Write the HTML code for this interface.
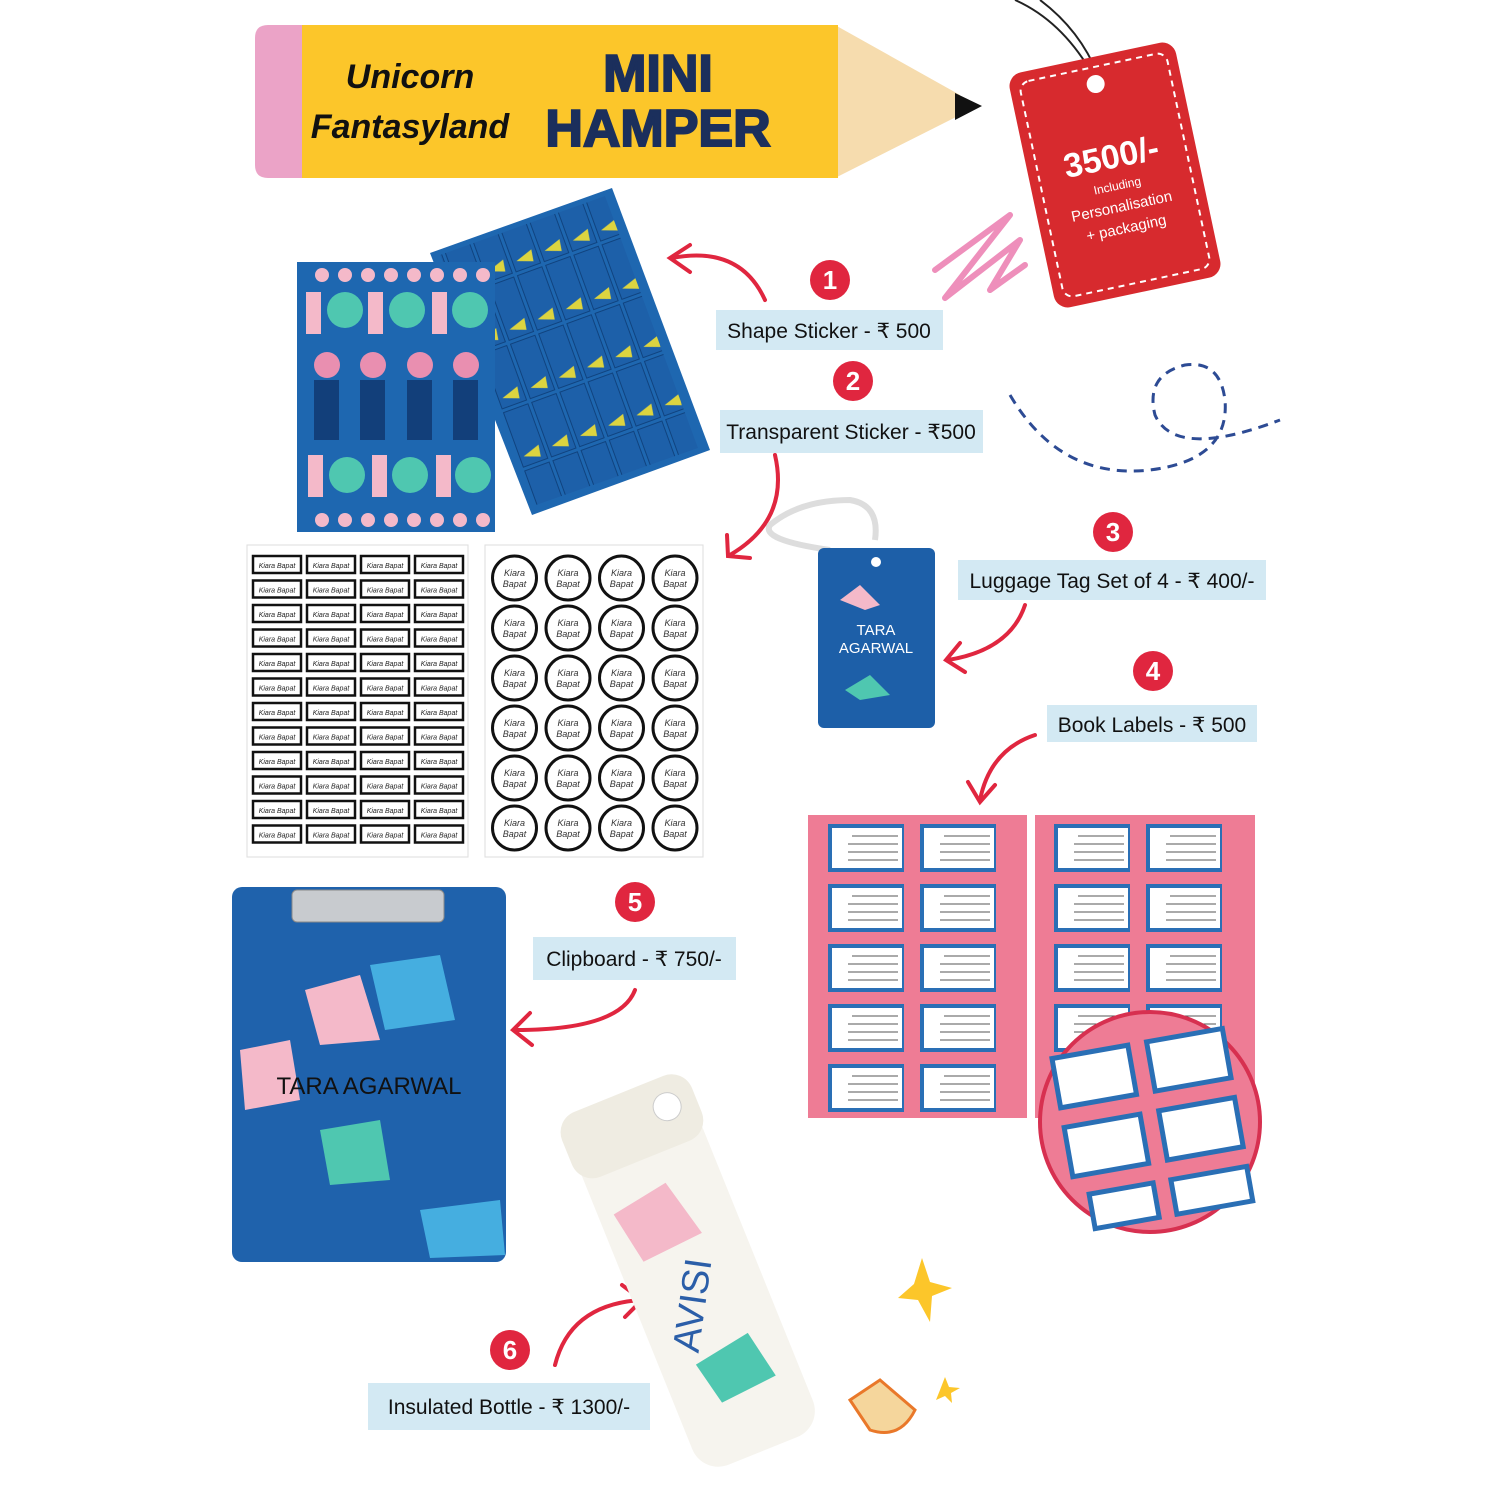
<!DOCTYPE html>
<html><head><meta charset="utf-8"><style>
html,body{margin:0;padding:0;background:#fff;}
svg{display:block}
text{font-family:"Liberation Sans",sans-serif;}
</style></head><body>
<svg width="1500" height="1500" viewBox="0 0 1500 1500" xmlns="http://www.w3.org/2000/svg">
<defs>
<pattern id="wl" x="250" y="553" width="54" height="24.5" patternUnits="userSpaceOnUse">
<rect x="3" y="3" width="48" height="17" fill="#fff" stroke="#111" stroke-width="2.5"/>
<text x="27" y="15" font-size="7" text-anchor="middle" font-style="italic" fill="#222">Kiara Bapat</text>
</pattern>
<pattern id="wc" x="488" y="553" width="53.5" height="50" patternUnits="userSpaceOnUse">
<circle cx="26.5" cy="25" r="22" fill="#fff" stroke="#111" stroke-width="3"/>
<text x="26.5" y="23" font-size="9" text-anchor="middle" font-style="italic" fill="#333">Kiara</text>
<text x="26.5" y="34" font-size="9" text-anchor="middle" font-style="italic" fill="#333">Bapat</text>
</pattern>
<pattern id="bl" x="812" y="820" width="92" height="60" patternUnits="userSpaceOnUse">
<rect x="16" y="4" width="78" height="48" fill="#2a6fb5"/>
<rect x="20" y="8" width="70" height="40" fill="#fff"/>
<line x1="40" y1="16" x2="86" y2="16" stroke="#555"/><line x1="36" y1="24" x2="86" y2="24" stroke="#555"/><line x1="36" y1="32" x2="86" y2="32" stroke="#555"/><line x1="36" y1="40" x2="86" y2="40" stroke="#555"/>
</pattern>
<pattern id="bl2" x="1038" y="820" width="92" height="60" patternUnits="userSpaceOnUse">
<rect x="16" y="4" width="78" height="48" fill="#2a6fb5"/>
<rect x="20" y="8" width="70" height="40" fill="#fff"/>
<line x1="40" y1="16" x2="86" y2="16" stroke="#555"/><line x1="36" y1="24" x2="86" y2="24" stroke="#555"/><line x1="36" y1="32" x2="86" y2="32" stroke="#555"/><line x1="36" y1="40" x2="86" y2="40" stroke="#555"/>
</pattern>
<pattern id="ts" x="0" y="0" width="30" height="62" patternUnits="userSpaceOnUse" patternTransform="rotate(-20)">
<rect x="2" y="2" width="26" height="58" fill="#1d5fa8" stroke="#0e3f7a"/>
<path d="M6 50 L24 44 L22 56 Z" fill="#f1e033"/>
</pattern>
</defs>

<!-- Pencil -->
<path d="M835 25 L960 95 L960 115 L835 178 Z" fill="#f6dcae"/>
<path d="M955 93 L982 106 L955 120 Z" fill="#111"/>
<rect x="300" y="25" width="538" height="153" fill="#fcc62a"/>
<path d="M268 25 H302 V178 H268 Q255 178 255 165 V38 Q255 25 268 25Z" fill="#eba3c7"/>
<text x="410" y="88" font-size="34" font-weight="bold" font-style="italic" text-anchor="middle" fill="#111">Unicorn</text>
<text x="410" y="138" font-size="34" font-weight="bold" font-style="italic" text-anchor="middle" fill="#111">Fantasyland</text>
<text x="658" y="91" font-size="52" font-weight="900" text-anchor="middle" fill="#1b2f5c" stroke="#1b2f5c" stroke-width="2">MINI</text>
<text x="658" y="146" font-size="52" font-weight="900" text-anchor="middle" fill="#1b2f5c" stroke="#1b2f5c" stroke-width="2">HAMPER</text>

<!-- Tag -->
<path d="M1015 0 Q1060 20 1090 70" stroke="#222" stroke-width="2" fill="none"/>
<path d="M1040 0 Q1080 30 1098 75" stroke="#222" stroke-width="2" fill="none"/>
<g transform="rotate(-12 1115 175)">
<rect x="1030" y="55" width="170" height="240" rx="14" fill="#d72a2e"/>
<rect x="1040" y="65" width="150" height="220" rx="10" fill="none" stroke="#fff" stroke-width="2" stroke-dasharray="6 5"/>
<circle cx="1115" cy="82" r="9" fill="#fff"/>
<text x="1115" y="168" font-size="34" font-weight="bold" text-anchor="middle" fill="#fff">3500/-</text>
<text x="1115" y="190" font-size="12" font-family="Liberation Serif" text-anchor="middle" fill="#fff">Including</text>
<text x="1115" y="212" font-size="15" font-family="Liberation Serif" text-anchor="middle" fill="#fff">Personalisation</text>
<text x="1115" y="234" font-size="15" font-family="Liberation Serif" text-anchor="middle" fill="#fff">+ packaging</text>
</g>
<path d="M935 270 L1010 215 L945 298 L1020 240 L990 290 L1025 265" stroke="#ee8fbb" stroke-width="6" fill="none" stroke-linejoin="round" stroke-linecap="round"/>

<!-- dashed loop -->
<path d="M1010 395 Q1060 480 1150 470 Q1230 460 1225 400 Q1220 360 1185 365 Q1145 375 1155 415 Q1175 460 1280 420" stroke="#2d4b94" stroke-width="3" fill="none" stroke-dasharray="10 7"/>

<!-- sticker sheets -->
<polygon points="430,253 612,188 710,450 532,515" fill="#1e67b0"/>
<polygon points="440,255 605,196 698,448 536,505" fill="url(#ts)" opacity="0.9"/>
<rect x="297" y="262" width="198" height="270" fill="#1e67b0"/>
<g fill="#f4b9c9">
<circle cx="322" cy="275" r="7"/><circle cx="345" cy="275" r="7"/><circle cx="368" cy="275" r="7"/><circle cx="391" cy="275" r="7"/><circle cx="414" cy="275" r="7"/><circle cx="437" cy="275" r="7"/><circle cx="460" cy="275" r="7"/><circle cx="483" cy="275" r="7"/>
<circle cx="322" cy="520" r="7"/><circle cx="345" cy="520" r="7"/><circle cx="368" cy="520" r="7"/><circle cx="391" cy="520" r="7"/><circle cx="414" cy="520" r="7"/><circle cx="437" cy="520" r="7"/><circle cx="460" cy="520" r="7"/><circle cx="483" cy="520" r="7"/>
<rect x="306" y="292" width="15" height="42"/><rect x="368" y="292" width="15" height="42"/><rect x="432" y="292" width="15" height="42"/>
<rect x="308" y="455" width="15" height="42"/><rect x="372" y="455" width="15" height="42"/><rect x="436" y="455" width="15" height="42"/>
</g>
<g fill="#4fc7b0"><ellipse cx="345" cy="310" rx="18" ry="18"/><ellipse cx="407" cy="310" rx="18" ry="18"/><ellipse cx="470" cy="310" rx="18" ry="18"/>
<ellipse cx="347" cy="475" rx="18" ry="18"/><ellipse cx="410" cy="475" rx="18" ry="18"/><ellipse cx="473" cy="475" rx="18" ry="18"/></g>
<g fill="#e98fb0"><circle cx="327" cy="365" r="13"/><circle cx="373" cy="365" r="13"/><circle cx="420" cy="365" r="13"/><circle cx="466" cy="365" r="13"/></g>
<g fill="#123f7a"><rect x="314" y="380" width="25" height="60"/><rect x="360" y="380" width="25" height="60"/><rect x="407" y="380" width="25" height="60"/><rect x="453" y="380" width="25" height="60"/></g>

<!-- labels -->
<g font-size="21" fill="#111">
<rect x="716" y="310" width="227" height="40" fill="#d3e9f3"/><text x="829" y="338" text-anchor="middle">Shape Sticker - ₹ 500</text>
<rect x="720" y="410" width="263" height="43" fill="#d3e9f3"/><text x="851" y="439" text-anchor="middle">Transparent Sticker - ₹500</text>
<rect x="958" y="560" width="308" height="40" fill="#d3e9f3"/><text x="1112" y="588" text-anchor="middle">Luggage Tag Set of 4 - ₹ 400/-</text>
<rect x="1047" y="705" width="210" height="37" fill="#d3e9f3"/><text x="1152" y="732" text-anchor="middle">Book Labels - ₹ 500</text>
<rect x="533" y="937" width="203" height="43" fill="#d3e9f3"/><text x="634" y="966" text-anchor="middle">Clipboard - ₹ 750/-</text>
<rect x="368" y="1383" width="282" height="47" fill="#d3e9f3"/><text x="509" y="1414" text-anchor="middle">Insulated Bottle - ₹ 1300/-</text>
</g>
<g fill="#e0263f">
<circle cx="830" cy="280" r="20"/><circle cx="853" cy="381" r="20"/><circle cx="1113" cy="532" r="20"/><circle cx="1153" cy="671" r="20"/><circle cx="635" cy="902" r="20"/><circle cx="510" cy="1350" r="20"/>
</g>
<g fill="#fff" font-size="26" font-weight="bold" text-anchor="middle">
<text x="830" y="289">1</text><text x="853" y="390">2</text><text x="1113" y="541">3</text><text x="1153" y="680">4</text><text x="635" y="911">5</text><text x="510" y="1359">6</text>
</g>

<!-- arrows -->
<g stroke="#e0263f" stroke-width="4" fill="none" stroke-linecap="round">
<path d="M765 300 Q740 245 672 258"/><path d="M690 245 L670 258 L690 272"/>
<path d="M775 455 Q790 520 730 555"/><path d="M727 535 L728 556 L750 558"/>
<path d="M1025 605 Q1010 650 948 660"/><path d="M960 643 L946 660 L965 672"/>
<path d="M1035 735 Q990 750 980 800"/><path d="M968 782 L980 802 L995 785"/>
<path d="M635 990 Q620 1030 515 1030"/><path d="M530 1013 L513 1030 L532 1045"/>
<path d="M555 1365 Q570 1305 640 1300"/><path d="M622 1285 L642 1300 L625 1317"/>
</g>

<!-- white sheets -->
<rect x="247" y="545" width="221" height="312" fill="#fff" stroke="#ddd"/>
<rect x="250" y="553" width="216" height="294" fill="url(#wl)"/>
<rect x="485" y="545" width="218" height="312" fill="#fff" stroke="#ddd"/>
<rect x="488" y="553" width="214" height="300" fill="url(#wc)"/>

<!-- luggage tag -->
<path d="M830 550 Q760 540 770 525 Q800 500 850 500 Q880 505 875 540" stroke="#ddd" stroke-width="6" fill="none"/>
<rect x="818" y="548" width="117" height="180" rx="6" fill="#1d5fa8"/>
<circle cx="876" cy="562" r="5" fill="#fff"/>
<text x="876" y="635" font-size="15" text-anchor="middle" fill="#fff">TARA</text>
<text x="876" y="653" font-size="15" text-anchor="middle" fill="#fff">AGARWAL</text>
<path d="M840 600 L860 585 L880 605 L865 610Z" fill="#f4b9c9"/>
<path d="M845 690 L870 675 L890 695 L860 700Z" fill="#4fc7b0"/>

<!-- book labels -->
<rect x="808" y="815" width="219" height="303" fill="#ee7c95"/>
<rect x="812" y="820" width="184" height="298" fill="url(#bl)"/>
<rect x="1035" y="815" width="220" height="303" fill="#ee7c95"/>
<rect x="1038" y="820" width="184" height="298" fill="url(#bl2)"/>
<circle cx="1150" cy="1122" r="110" fill="#ee7c95" stroke="#d73050" stroke-width="4"/>
<g transform="rotate(-10 1150 1122)">
<rect x="1062" y="1040" width="82" height="55" fill="#2a6fb5"/><rect x="1067" y="1045" width="72" height="45" fill="#fff"/>
<rect x="1158" y="1040" width="82" height="55" fill="#2a6fb5"/><rect x="1163" y="1045" width="72" height="45" fill="#fff"/>
<rect x="1062" y="1110" width="82" height="55" fill="#2a6fb5"/><rect x="1067" y="1115" width="72" height="45" fill="#fff"/>
<rect x="1158" y="1110" width="82" height="55" fill="#2a6fb5"/><rect x="1163" y="1115" width="72" height="45" fill="#fff"/>
<rect x="1075" y="1180" width="70" height="40" fill="#2a6fb5"/><rect x="1080" y="1185" width="60" height="30" fill="#fff"/>
<rect x="1158" y="1180" width="82" height="40" fill="#2a6fb5"/><rect x="1163" y="1185" width="72" height="30" fill="#fff"/>
</g>

<!-- clipboard -->
<rect x="232" y="887" width="274" height="375" rx="10" fill="#1f62ac"/>
<rect x="292" y="890" width="152" height="32" rx="5" fill="#c8cbcf" stroke="#888"/>
<g fill="#f4b9c9"><path d="M305 990 L360 975 L380 1040 L320 1045Z"/><path d="M240 1050 L290 1040 L300 1100 L245 1110Z"/></g>
<g fill="#45aee0"><path d="M370 965 L440 955 L455 1020 L385 1030Z"/><path d="M420 1210 L500 1200 L505 1255 L430 1258Z"/></g>
<g fill="#4fc7b0"><path d="M320 1130 L380 1120 L390 1180 L330 1185Z"/></g>
<text x="369" y="1094" font-size="24" text-anchor="middle" fill="#111">TARA AGARWAL</text>

<!-- bottle -->
<g transform="rotate(-22 690 1270)">
<rect x="625" y="1100" width="130" height="365" rx="28" fill="#f6f4ee"/>
<rect x="620" y="1080" width="140" height="70" rx="22" fill="#efece2"/>
<circle cx="730" cy="1110" r="14" fill="#fff" stroke="#ccc"/>
<text x="690" y="1310" font-size="38" fill="#2b5ea8" text-anchor="middle" transform="rotate(-60 690 1310)">AVISI</text>
<path d="M640 1190 L700 1180 L715 1240 L650 1245Z" fill="#f4b9c9"/>
<path d="M660 1360 L720 1350 L730 1400 L670 1405Z" fill="#4fc7b0"/>
</g>
<path d="M922 1258 L930 1282 L952 1288 L932 1296 L930 1322 L918 1300 L898 1298 L914 1284 Z" fill="#fcc62a"/>
<path d="M945 1377 L949 1387 L960 1388 L951 1393 L952 1403 L945 1396 L936 1400 L940 1390 Z" fill="#fcc62a"/>
<path d="M850 1400 L880 1380 L915 1410 Q900 1440 870 1430 Z" fill="#f5d69c" stroke="#e9782a" stroke-width="3"/>
</svg>
</body></html>
